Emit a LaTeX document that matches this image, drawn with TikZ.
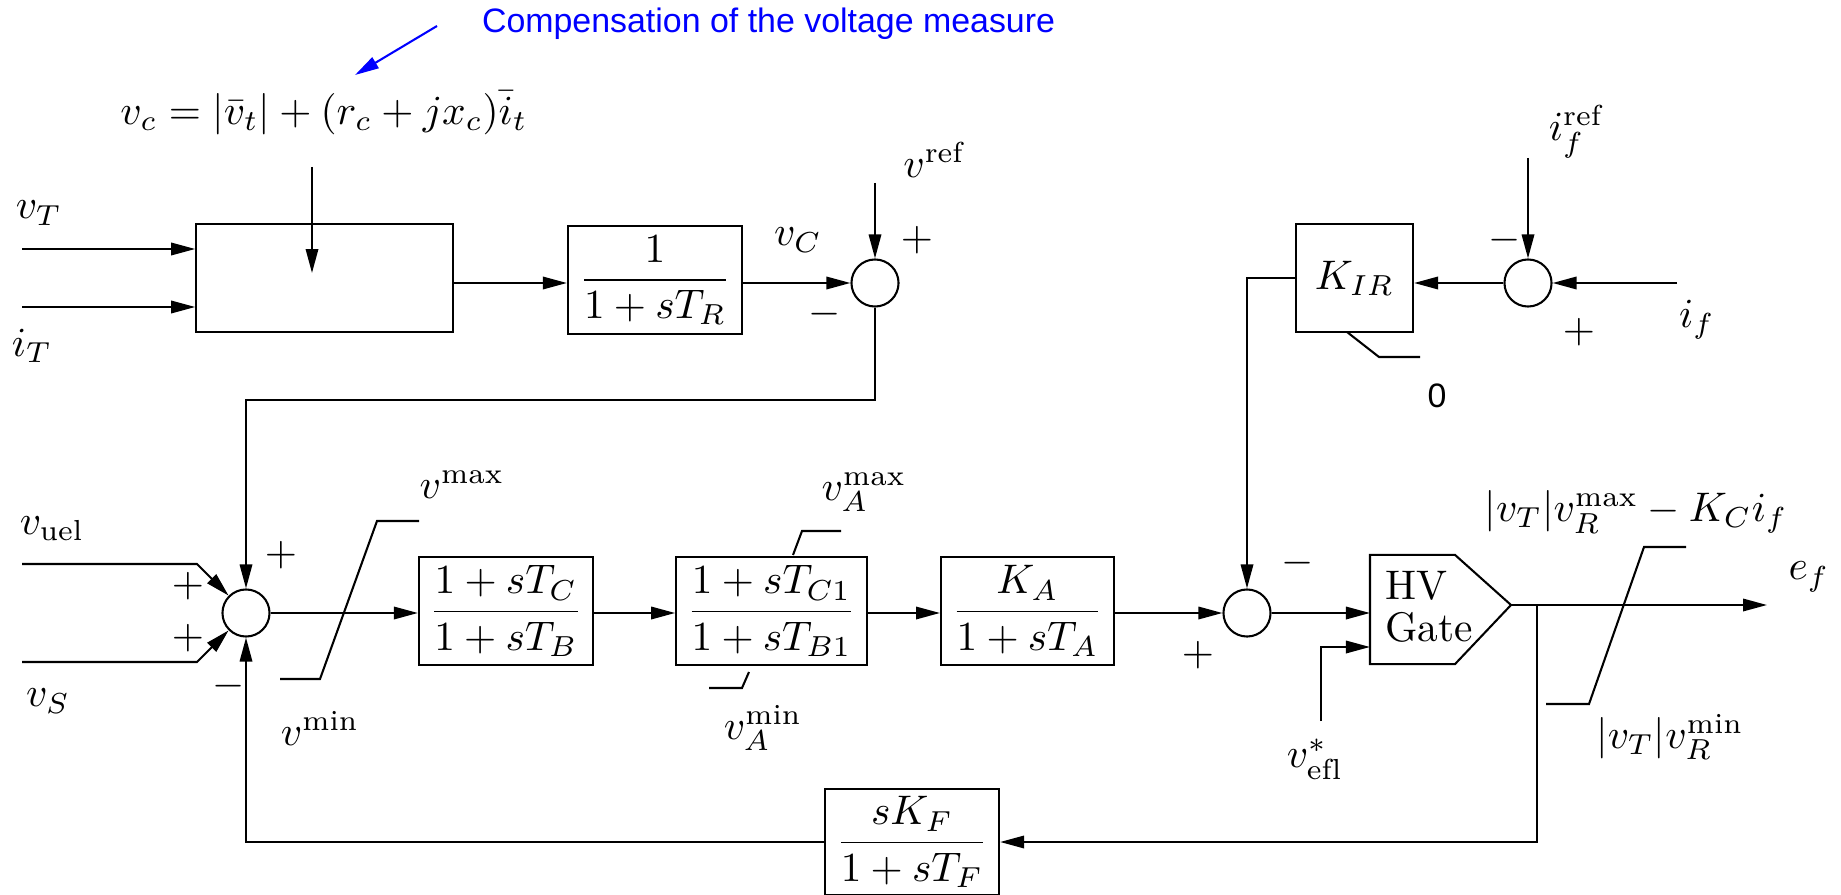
\documentclass[tikz,border=0pt]{standalone}
\usepackage{amsmath}
\usepackage{fontspec}
\setsansfont{Liberation Sans}
\usepackage{tikz}
\usetikzlibrary{arrows.meta,calc}

\begin{document}
\begin{tikzpicture}[x=0.0085cm,y=-0.0085cm,line width=0.5pt,
  >={Triangle[length=5.8pt,width=3pt]},
  blk/.style={draw,inner sep=0pt,minimum height=0.915cm},
  sumj/.style={draw,circle,inner sep=0pt,minimum size=0.4cm},
  note/.style={font=\sffamily\fontsize{8.2}{10}\selectfont}]
\useasboundingbox (0,0) rectangle (1841,895);
% top row: voltage measure, transducer, reference summing point
\node[note,text=blue,anchor=base west,inner sep=0pt] (compnote) at (481,33) {Compensation of the voltage measure};
\coordinate (notefrom) at (437,26);
\coordinate (noteto) at (355,75);
\draw[->,blue] (notefrom) -- (noteto);
\node (vceq) at (324,113) {$v_c=|\bar{v}_t|+(r_c+jx_c)\bar{i}_t$};
\node[blk,minimum width=2.18cm] (comp) at (324.5,278) {};
\coordinate (compin) at (312,167);
\coordinate (compend) at (312,273);
\draw[->] (compin) -- (compend);
\node[blk,minimum width=1.48cm] (tr) at (655,280) {$\dfrac{1}{1+sT_R}$};
\node[sumj] (s1) at (875,283) {};
\coordinate (vTin) at (22,249);
\coordinate (iTin) at (22,307);
\draw[->] (vTin) -- (vTin -| comp.west);
\draw[->] (iTin) -- (iTin -| comp.west);
\node (vT) at (39,213) {$v_T$};
\node (iT) at (32,346) {$i_T$};
\draw[->] (comp.east |- s1) -- (tr.west |- s1);
\draw[->] (tr.east |- s1) -- (s1.west);
\node (vC) at (798,240) {$v_C$};
\coordinate (vrefin) at (875,183);
\draw[->] (vrefin) -- (s1.north);
\node (vref) at (934,160) {$v^{\mathrm{ref}}$};
% field current limiter
\node[blk,minimum width=0.995cm] (kir) at (1354.5,278) {$K_{IR}$};
\node[sumj] (s4) at (1528,283) {};
\draw[->] (s4.west) -- (kir.east |- s4);
\coordinate (ifrefin) at (1528,158);
\draw[->] (ifrefin) -- (s4.north);
\node (ifref) at (1576,132) {$i_f^{\mathrm{ref}}$};
\coordinate (ifin) at (1677,283);
\draw[->] (ifin) -- (s4.east);
\node (if) at (1697,320) {$i_f$};
\draw (1347,332) -- (1379,357) -- (1420,357);
\node[note] (kirmin) at (1437,396) {0};
% middle row: main regulator
\node[sumj] (s2) at (246,613) {};
\draw[->] (s1.south) -- ++(0,92) -| (s2.north);
\node[blk,minimum width=1.48cm] (lead) at (506,611) {$\dfrac{1+sT_C}{1+sT_B}$};
\node[blk,minimum width=1.62cm] (lead1) at (771.5,611) {$\dfrac{1+sT_{C1}}{1+sT_{B1}}$};
\node[blk,minimum width=1.47cm] (amp) at (1027.5,611) {$\dfrac{K_A}{1+sT_A}$};
\node[sumj] (s3) at (1247,613) {};
\node[inner sep=0pt,minimum width=0.7055cm,minimum height=0.91cm] (gate) at (1412.5,609.5) {};
\coordinate (gtip) at (1511,605);
\draw (gate.north east) -- (gate.north west) -- (gate.south west) -- (gate.south east) -- (gtip) -- cycle;
\node[align=left,inner sep=0pt] (gatetxt) at (1429,607) {HV\\[-2pt]Gate};
\coordinate (vuelin) at (22,564);
\coordinate (vSin) at (22,662);
\draw[->] (vuelin) -- ++(175,0) -- (s2.135);
\draw[->] (vSin) -- ++(175,0) -- (s2.225);
\node (vuel) at (52,529) {$v_{\mathrm{uel}}$};
\node (vS) at (48,701) {$v_S$};
\draw[->] (s2.east) -- (lead.west |- s2);
\draw[->] (lead.east |- s2) -- (lead1.west |- s2);
\draw[->] (lead1.east |- s2) -- (amp.west |- s2);
\draw[->] (amp.east |- s2) -- (s3.west);
\draw[->] (kir.west) -| (s3.north);
\draw[->] (s3.east) -- (gate.west |- s3);
\coordinate (veflin) at (1321,721);
\draw[->] (veflin) |- ($(gate.west)+(0,37.5)$);
\node (vefl) at (1315,759) {$v_{\mathrm{efl}}^{*}$};
\coordinate (efout) at (1767,605);
\draw[->] (gtip) -- (efout);
\node (ef) at (1809,577) {$e_f$};
% limits
\draw (280,679) -- (320,679) -- (377,521) -- (419,521);
\node (vmax) at (462,485) {$v^{\max}$};
\node (vmin) at (320,728) {$v^{\min}$};
\draw (793,555) -- (802,531) -- (841,531);
\draw (709,688) -- (742,688) -- (749,672);
\node (vAmax) at (864,492) {$v_A^{\max}$};
\node (vAmin) at (763,728) {$v_A^{\min}$};
\draw (1546,704) -- (1589,704) -- (1644,547) -- (1686,547);
\node (vRmax) at (1636,512) {$|v_T|v_R^{\max}-K_Ci_f$};
\node (vRmin) at (1670,737) {$|v_T|v_R^{\min}$};
% rate feedback
\node[blk,minimum width=1.48cm,minimum height=0.9cm] (fb) at (912,842) {$\dfrac{sK_F}{1+sT_F}$};
\coordinate (br) at (1537,605);
\draw[->] (br) |- (fb.east);
\draw[->] (fb.west) -| (s2.south);
% signs at the summing points
\foreach \p/\sg [count=\k] in {{917,240}/+,{825,314}/-,{1505,240}/-,{1579,332}/+,{188,586}/+,{188,638}/+,{281,555}/+,{229,686}/-,{1298,563}/-,{1198,655}/+}
  {\node (sign\k) at (\p) {$\sg$};}
\end{tikzpicture}
\end{document}
